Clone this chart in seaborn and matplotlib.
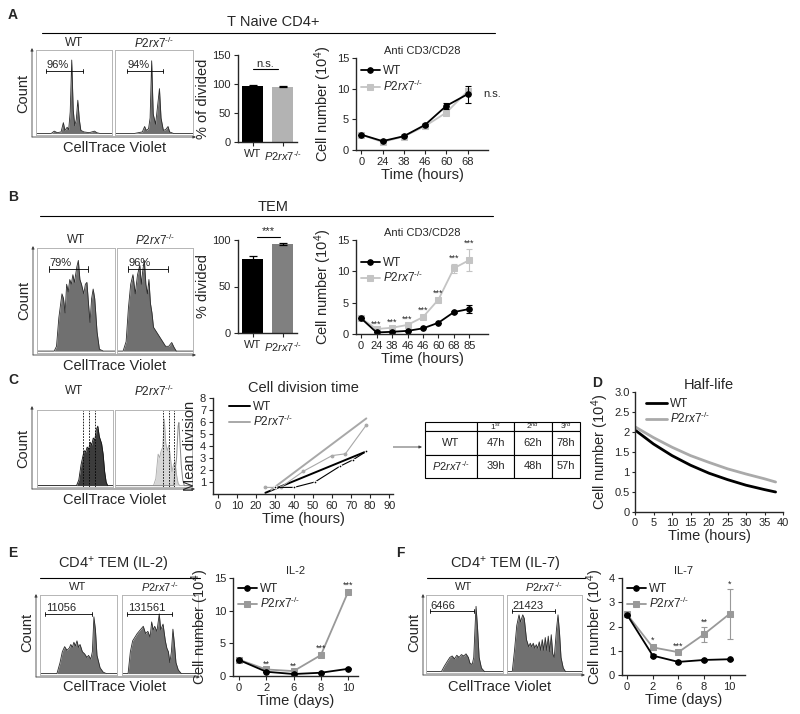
import matplotlib
matplotlib.use("Agg")
import matplotlib.pyplot as plt
import seaborn as sns

sns.set_style("ticks")
plt.rcParams["font.family"] = ["Liberation Sans", "DejaVu Sans"]
plt.rcParams["mathtext.fontset"] = "custom"
plt.rcParams["mathtext.rm"] = "Liberation Sans"
plt.rcParams["mathtext.it"] = "Liberation Sans:italic"
plt.rcParams["axes.linewidth"] = 1.0
plt.rcParams["xtick.major.size"] = 3
plt.rcParams["ytick.major.size"] = 3
plt.rcParams["xtick.major.width"] = 0.8
plt.rcParams["ytick.major.width"] = 0.8
plt.rcParams["xtick.labelsize"] = 8
plt.rcParams["ytick.labelsize"] = 8
plt.rcParams["xtick.major.pad"] = 2
plt.rcParams["ytick.major.pad"] = 2

KO = r"$\mathit{P2rx7}^{\text{-/-}}$"

# ---- A: naive CD4
a_groups = ["WT", KO]
a_pct = [97, 95]
a_pct_err = [1.0, 0.7]
a_hours = ["0", "24", "38", "46", "60", "68"]
a_wt = [2.5, 1.45, 2.25, 4.1, 7.2, 9.1]
a_wt_err = [0, 0, 0, 0.2, 0.5, 1.4]
a_ko = [2.5, 1.3, 2.2, 3.9, 6.1, 9.6]
a_ko_err = [0, 0.1, 0, 0.3, 0.2, 0.5]

# ---- B: TEM
b_pct = [80, 96]
b_pct_err = [3.0, 1.0]
b_hours = ["0", "24", "38", "46", "46", "60", "68", "85"]
b_wt = [2.5, 0.25, 0.35, 0.5, 0.9, 1.8, 3.5, 4.0]
b_wt_err = [0, 0, 0, 0, 0, 0, 0.2, 0.7]
b_ko = [2.5, 0.8, 1.0, 1.45, 2.7, 5.5, 10.5, 11.8]
b_ko_err = [0, 0, 0, 0, 0.2, 0.2, 0.7, 1.8]
b_stars = ["", "***", "***", "***", "***", "***", "***", "***"]

# ---- C: division time
c_wt_t = [30, 40, 51, 64, 71, 78]
c_wt_div = [0.55, 0.55, 1.0, 2.3, 2.85, 3.55]
c_wt_fit_t = [25, 78]
c_wt_fit = [0.1, 3.55]
c_ko_t = [25, 33, 45, 60, 67, 78]
c_ko_div = [0.55, 0.55, 1.9, 3.2, 3.35, 5.75]
c_ko_fit_t = [28, 78]
c_ko_fit = [0.35, 6.3]
tbl_head = ["", "1$^{st}$", "2$^{nd}$", "3$^{rd}$"]
tbl_wt = ["47h", "62h", "78h"]
tbl_ko = ["39h", "48h", "57h"]

# ---- D: half-life
d_t = [0, 5, 10, 15, 20, 25, 30, 35, 38]
d_wt = [2.05, 1.70, 1.41, 1.17, 0.97, 0.81, 0.67, 0.56, 0.50]
d_ko = [2.13, 1.86, 1.62, 1.41, 1.24, 1.08, 0.95, 0.83, 0.75]

# ---- E / F: IL-2, IL-7
days = ["0", "2", "6", "8", "10"]
e_wt = [2.45, 0.65, 0.3, 0.5, 1.1]
e_wt_err = [0, 0, 0, 0, 0.1]
e_ko = [2.5, 1.0, 0.75, 3.2, 12.9]
e_ko_err = [0, 0, 0, 0.2, 0.2]
e_stars = ["", "**", "**", "***", "***"]
f_wt = [2.48, 0.8, 0.54, 0.62, 0.65]
f_wt_err = [0, 0.05, 0.03, 0.03, 0.03]
f_ko = [2.5, 1.14, 0.94, 1.68, 2.52]
f_ko_err = [0, 0.1, 0.04, 0.3, 1.02]
f_stars = ["", "*", "***", "**", "*"]

# flow histograms, (x %, count %) outline vertices
hist_a_wt = [(0, 0), (20, 0), (24, 3), (28, 1), (33, 2), (36, 14), (38, 4), (41, 8), (43, 5), (45, 28),
             (47, 95), (49, 30), (51, 10), (53, 18), (55, 43), (57, 18), (59, 4), (63, 2), (70, 1),
             (77, 3), (80, 1), (84, 0), (100, 0)]
hist_a_ko = [(0, 0), (25, 0), (30, 1), (35, 2), (38, 9), (40, 4), (43, 6), (45, 20), (47, 94), (49, 25),
             (52, 12), (54, 30), (57, 58), (59, 20), (62, 4), (65, 5), (68, 9), (70, 2), (75, 0), (100, 0)]
hist_b_wt = [(0, 0), (22, 0), (25, 5), (28, 35), (32, 60), (34, 55), (36, 40), (38, 70), (40, 62), (42, 75),
             (44, 70), (46, 80), (48, 72), (51, 88), (53, 95), (55, 75), (57, 70), (60, 60), (62, 70),
             (64, 72), (66, 50), (68, 30), (70, 55), (72, 65), (74, 55), (77, 20), (80, 2), (85, 0), (100, 0)]
hist_b_ko = [(0, 0), (8, 0), (12, 10), (15, 45), (18, 70), (21, 80), (24, 60), (27, 80), (30, 90), (32, 70),
             (34, 85), (36, 95), (38, 70), (40, 60), (42, 75), (44, 50), (46, 40), (48, 25), (52, 20),
             (56, 15), (60, 10), (64, 5), (68, 5), (72, 9), (75, 4), (78, 0), (100, 0)]
hist_c_wt = [(0, 0), (52, 0), (55, 8), (58, 30), (62, 50), (64, 48), (66, 55), (68, 52), (70, 62), (72, 58),
             (74, 68), (76, 65), (78, 80), (80, 85), (82, 70), (85, 60), (87, 45), (89, 20), (91, 5),
             (93, 0), (100, 0)]
hist_c_ko = [(0, 0), (50, 0), (53, 10), (56, 45), (58, 40), (60, 50), (62, 55), (64, 95), (66, 60), (68, 50),
             (70, 58), (72, 40), (74, 20), (76, 30), (78, 34), (80, 15), (82, 3), (84, 0), (100, 0)]
hist_c_ko_undiv = [(0, 0), (76, 0), (78, 20), (80, 40), (82, 85), (83, 90), (84, 70), (86, 30), (88, 8),
                   (90, 0), (100, 0)]
hist_e_wt = [(0, 0), (22, 0), (26, 15), (29, 30), (32, 37), (35, 32), (38, 35), (40, 40), (42, 36), (44, 43),
             (46, 38), (48, 45), (50, 36), (52, 40), (55, 30), (58, 27), (61, 22), (63, 25), (66, 20),
             (68, 30), (70, 78), (72, 60), (74, 25), (78, 8), (82, 2), (86, 0), (100, 0)]
hist_e_ko = [(0, 0), (8, 0), (11, 30), (14, 45), (17, 50), (20, 55), (24, 60), (28, 65), (31, 55), (34, 58),
             (37, 50), (39, 71), (41, 60), (43, 65), (46, 58), (49, 82), (51, 60), (54, 68), (57, 45),
             (59, 35), (61, 30), (63, 15), (65, 30), (67, 61), (69, 40), (71, 15), (74, 5), (78, 0), (100, 0)]
hist_f_wt = [(0, 0), (20, 0), (24, 8), (28, 15), (31, 20), (34, 22), (37, 18), (40, 23), (43, 20), (46, 24),
             (49, 22), (52, 25), (55, 20), (57, 12), (60, 10), (62, 20), (64, 70), (65, 92), (67, 60),
             (69, 20), (72, 5), (76, 0), (100, 0)]
hist_f_ko = [(0, 0), (7, 0), (10, 30), (13, 65), (16, 80), (18, 70), (21, 80), (23, 75), (26, 45), (29, 35),
             (31, 40), (33, 35), (35, 40), (37, 33), (39, 38), (41, 33), (43, 42), (45, 30), (47, 45),
             (49, 30), (51, 48), (53, 30), (55, 50), (57, 28), (59, 52), (61, 25), (63, 20), (66, 60),
             (68, 80), (70, 55), (72, 20), (75, 5), (78, 0), (100, 0)]
# gates: start %, end %, height %, label
gate_a = [(13, 62, 81, "96%"), (15, 62, 81, "94%")]
gate_b = [(15, 66, 86, "79%"), (14, 67, 86, "96%")]
gate_e = [(7, 67, 82, "11056"), (7, 66, 82, "131561")]
gate_f = [(5, 62, 85, "6466"), (6, 64, 85, "21423")]
div_lines_wt = [61, 69, 76]
div_lines_ko = [62, 70, 77]

W, H = 800, 714
fig = plt.figure(figsize=(8, 7.14), dpi=100)


def rect(x0, y0, x1, y1):
    return [x0 / W, 1 - y1 / H, (x1 - x0) / W, (y1 - y0) / H]


ov = fig.add_axes([0, 0, 1, 1])
ov.set_xlim(0, W)
ov.set_ylim(H, 0)
ov.axis("off")


def txt(x, y, s, size=10, ha="center", va="center", **kw):
    ov.text(x, y, s, fontsize=size, ha=ha, va=va, **kw)


def arrow(x0, y0, x1, y1):
    ov.annotate("", xy=(x1, y1), xytext=(x0, y0),
                arrowprops=dict(arrowstyle="-|>", lw=0.6, color="0.25", mutation_scale=4,
                                shrinkA=0, shrinkB=0))


def histo(box, pts, fill="#707070", edge="#2a2a2a", gate=None, lines=None, outline=None):
    ax = fig.add_axes(rect(*box))
    xs = [p[0] for p in pts]
    ys = [p[1] for p in pts]
    ax.fill_between(xs, ys, color=fill, lw=0)
    sns.lineplot(x=xs, y=ys, ax=ax, color=edge, lw=0.6, sort=False, estimator=None)
    if outline:
        sns.lineplot(x=[p[0] for p in outline], y=[p[1] for p in outline], ax=ax, color="#8a8a8a",
                     lw=0.7, sort=False, estimator=None)
    if lines:
        for lx in lines:
            ax.axvline(lx, color="k", lw=0.6, ls=(0, (2, 1.5)))
    if gate:
        g0, g1, gy, lab = gate
        ax.plot([g0, g1], [gy, gy], color="k", lw=0.6)
        ax.plot([g0, g0], [gy - 3, gy + 3], color="k", lw=0.6)
        ax.plot([g1, g1], [gy - 3, gy + 3], color="k", lw=0.6)
        ax.text(g0 + 1, gy + 1, lab, fontsize=8, ha="left", va="bottom")
    ax.set_xlim(0, 100)
    ax.set_ylim(-2, 108)
    ax.set_xticks([])
    ax.set_yticks([])
    ax.set_xlabel("")
    ax.set_ylabel("")
    for s in ax.spines.values():
        s.set_color("#b5b5b5")
        s.set_linewidth(0.7)
        s.set_visible(True)
    return ax


def flow_frame(x_ax, y_bot, y_top, x_end, y_count, y_ctv, x_mid):
    arrow(x_ax, y_bot, x_ax, y_top)
    arrow(x_ax, y_bot, x_end, y_bot)
    txt(x_ax - 9, y_count, "Count", size=10.5, rotation=90)
    txt(x_mid, y_ctv, "CellTrace Violet", size=10.5)


def bars(box, vals, errs, colors, ylim, yticks, ylabel, sig, sig_y, sig_x):
    ax = fig.add_axes(rect(*box))
    sns.barplot(x=a_groups, y=vals, hue=a_groups, palette=colors, legend=False, width=0.72,
                ax=ax, errorbar=None, edgecolor="none")
    ax.errorbar([0, 1], vals, yerr=errs, fmt="none", ecolor="k", capsize=3, elinewidth=0.9, capthick=0.9)
    ax.plot(sig_x, [sig_y, sig_y], color="k", lw=0.8, clip_on=False)
    ax.text(sum(sig_x) / 2, sig_y + ylim * 0.005, sig, fontsize=8, ha="center", va="bottom")
    ax.set_ylim(0, ylim)
    ax.set_yticks(yticks)
    ax.set_xlim(-0.49, 1.48)
    ax.set_ylabel(ylabel, fontsize=10.5, labelpad=2)
    ax.set_xlabel("")
    sns.despine(ax=ax)
    return ax


def timecourse(box, ticks, wt, wt_err, ko, ko_err, ko_color, ylim, yticks, xlim, title,
               xlabel, stars=None, legend_y=0.95):
    ax = fig.add_axes(rect(*box))
    pos = list(range(len(ticks)))
    sns.lineplot(x=pos, y=ko, ax=ax, color=ko_color, marker="s", markersize=4,
                 markeredgecolor=ko_color, lw=1.3, label=KO)
    ax.errorbar(pos, ko, yerr=ko_err, fmt="none", ecolor=ko_color, capsize=2, elinewidth=0.8, capthick=0.8)
    sns.lineplot(x=pos, y=wt, ax=ax, color="k", marker="o", markersize=4, markeredgecolor="k",
                 lw=1.3, label="WT")
    ax.errorbar(pos, wt, yerr=wt_err, fmt="none", ecolor="k", capsize=2, elinewidth=0.8, capthick=0.8)
    if stars:
        for i, s in enumerate(stars):
            if s:
                ax.annotate(s, (i, ko[i] + ko_err[i]), xytext=(0, 0.5), textcoords="offset points",
                            ha="center", va="bottom", fontsize=6.5)
    h, l = ax.get_legend_handles_labels()
    ax.legend(h[::-1], l[::-1], loc="upper left", bbox_to_anchor=(0.0, legend_y), frameon=False,
              fontsize=8.5, handlelength=1.6, handletextpad=0.3, labelspacing=0.1, borderaxespad=0)
    ax.set_xticks(pos)
    ax.set_xticklabels(ticks)
    ax.set_xlim(*xlim)
    ax.set_ylim(0, ylim)
    ax.set_yticks(yticks)
    ax.set_ylabel("Cell number (10$^4$)", fontsize=10.5, labelpad=2)
    ax.set_xlabel(xlabel, fontsize=10.5, labelpad=1)
    ax.set_title(title, fontsize=8, pad=3)
    sns.despine(ax=ax)
    return ax


# ===== panel letters and headers
for letter, x, y in [("A", 13, 15), ("B", 13, 197), ("C", 13, 380), ("D", 597, 383), ("E", 13, 553),
                     ("F", 400, 553)]:
    txt(x, y, letter, size=10, weight="bold")
txt(273, 22, "T Naive CD4+", size=10.5)
ov.plot([42, 495], [33, 33], color="k", lw=0.8)
txt(273, 207, "TEM", size=10.5)
ov.plot([40, 493], [216, 216], color="k", lw=0.8)

# ===== A
histo((36, 50, 112, 135), hist_a_wt, gate=gate_a[0])
histo((115, 50, 193, 135), hist_a_ko, gate=gate_a[1])
txt(74, 43, "WT", size=8.5)
txt(154, 43, KO, size=8.5)
flow_frame(32, 137, 48, 196, 93, 148, 115)
bars((238, 55, 297, 142), a_pct, a_pct_err, ["black", "#b3b3b3"], 150, [0, 50, 100, 150],
     "% of divided", "n.s.", 125, [0, 0.85])
ax = timecourse((356, 58, 488, 150), a_hours, a_wt, a_wt_err, a_ko, a_ko_err, "#c4c4c4", 15,
                [0, 5, 10, 15], (-0.25, 5.96), "Anti CD3/CD28", "Time (hours)", legend_y=0.97)
ax.annotate("n.s.", (5, a_wt[5]), xytext=(11, 0), textcoords="offset points", ha="left",
            va="center", fontsize=8)

# ===== B
histo((37, 248, 115, 353), hist_b_wt, gate=gate_b[0])
histo((117, 248, 193, 353), hist_b_ko, gate=gate_b[1])
txt(76, 240, "WT", size=8.5)
txt(155, 240, KO, size=8.5)
flow_frame(33, 355, 246, 196, 300, 366, 115)
bars((238, 240, 297, 333), b_pct, b_pct_err, ["black", "#808080"], 100, [0, 50, 100],
     "% divided", "***", 103.5, [0.15, 0.9])
timecourse((356, 240, 488, 334), b_hours, b_wt, b_wt_err, b_ko, b_ko_err, "#c4c4c4", 15,
           [0, 5, 10, 15], (-0.33, 8.2), "Anti CD3/CD28", "Time (hours)", stars=b_stars,
           legend_y=0.87)

# ===== C
histo((37, 410, 113, 487), hist_c_wt, fill="#3c3c3c", edge="#111111", lines=div_lines_wt)
histo((115, 410, 192, 487), hist_c_ko, fill="#d6d6d6", edge="#a8a8a8", lines=div_lines_ko,
      outline=hist_c_ko_undiv)
txt(74, 391, "WT", size=8.5)
txt(154, 391, KO, size=8.5)
flow_frame(32, 489, 406, 195, 448, 500, 115)

ax = fig.add_axes(rect(213, 398, 393, 494))
sns.lineplot(x=c_wt_fit_t, y=c_wt_fit, ax=ax, color="k", lw=1.4, label="WT")
sns.lineplot(x=c_ko_fit_t, y=c_ko_fit, ax=ax, color="#a8a8a8", lw=1.4, label=KO)
sns.lineplot(x=c_ko_t, y=c_ko_div, ax=ax, color="#a8a8a8", lw=0.8, marker="o", markersize=2,
             markeredgecolor="#a8a8a8")
sns.lineplot(x=c_wt_t, y=c_wt_div, ax=ax, color="k", lw=0.8, marker="o", markersize=2)
ax.legend(loc="upper left", bbox_to_anchor=(0.06, 1.02), frameon=False, fontsize=8.5, handlelength=1.8,
          handletextpad=0.3, labelspacing=0.1, borderaxespad=0)
ax.set_xlim(-2.5, 92)
ax.set_ylim(0, 8)
ax.set_xticks(range(0, 100, 10))
ax.set_yticks(range(1, 9))
ax.set_ylabel("Mean division", fontsize=10.5, labelpad=2)
ax.set_xlabel("Time (hours)", fontsize=10.5, labelpad=1)
ax.set_title("Cell division time", fontsize=10.5, pad=4)
sns.despine(ax=ax)

arrow(392, 447, 422, 447)
axt = fig.add_axes(rect(425, 422, 580, 478))
axt.axis("off")
tb = axt.table(cellText=[tbl_head, ["WT"] + tbl_wt, [KO] + tbl_ko], cellLoc="center",
               colWidths=[52, 37.6, 37.4, 28.3], bbox=[0, 0, 1, 1])
tb.auto_set_font_size(False)
tb.set_fontsize(8)
for (r, c), cell in tb.get_celld().items():
    cell.set_height(0.165 if r == 0 else 0.42)
    cell.set_linewidth(0.8)
    if r == 0:
        cell.get_text().set_fontsize(6)

# ===== D
ax = fig.add_axes(rect(635, 392, 783, 512))
sns.lineplot(x=d_t, y=d_wt, ax=ax, color="k", lw=2, label="WT")
sns.lineplot(x=d_t, y=d_ko, ax=ax, color="#aaaaaa", lw=2, label=KO)
ax.legend(loc="upper left", bbox_to_anchor=(0.04, 0.99), frameon=False, fontsize=8.5, handlelength=1.8,
          handletextpad=0.3, labelspacing=0.1, borderaxespad=0)
ax.set_xlim(0, 40)
ax.set_ylim(0, 3)
ax.set_xticks(range(0, 45, 5))
ax.set_yticks([0, 0.5, 1, 1.5, 2, 2.5, 3])
ax.set_yticklabels(["0", "0.5", "1", "1.5", "2", "2.5", "3.0"])
ax.tick_params(length=2)
ax.set_ylabel("Cell number (10$^4$)", fontsize=10.5, labelpad=2)
ax.set_xlabel("Time (hours)", fontsize=10.5, labelpad=1)
ax.set_title("Half-life", fontsize=10.5, pad=2)
sns.despine(ax=ax)

# ===== E
txt(113, 565, "CD4$^{+}$ TEM (IL-2)", size=10.5)
ov.plot([40, 200], [578, 578], color="k", lw=0.8)
histo((40, 595, 117, 675), hist_e_wt, gate=gate_e[0])
histo((122, 595, 198, 675), hist_e_ko, gate=gate_e[1])
txt(78, 587.5, "WT", size=8)
txt(160, 587.5, KO, size=8)
flow_frame(36, 677, 594, 200, 632, 687, 115)
timecourse((233, 578, 358, 676), days, e_wt, e_wt_err, e_ko, e_ko_err, "#999999", 15,
           [0, 5, 10, 15], (-0.22, 4.36), "IL-2", "Time (days)", stars=e_stars, legend_y=1.0)

# ===== F
txt(505, 565, "CD4$^{+}$ TEM (IL-7)", size=10.5)
ov.plot([427, 585], [578, 578], color="k", lw=0.8)
histo((426, 595, 503, 673), hist_f_wt, gate=gate_f[0])
histo((507, 595, 582, 673), hist_f_ko, gate=gate_f[1])
txt(464, 587.5, "WT", size=8)
txt(544, 587.5, KO, size=8)
flow_frame(423, 675, 594, 585, 632, 687, 500)
timecourse((622, 578, 745, 675), days, f_wt, f_wt_err, f_ko, f_ko_err, "#999999", 4,
           [0, 1, 2, 3, 4], (-0.2, 4.6), "IL-7", "Time (days)", stars=f_stars, legend_y=1.0)

fig.savefig("out.png", dpi=100)
